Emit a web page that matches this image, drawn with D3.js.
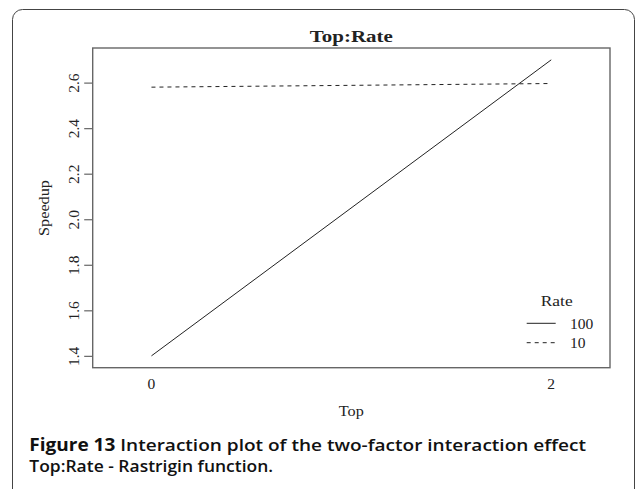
<!DOCTYPE html>
<html>
<head>
<meta charset="utf-8">
<script src="https://cdn.jsdelivr.net/npm/d3@7"></script>
<style>
  body { margin: 0; background: #fff; }
  svg { display: block; }
  .serif { font-family: "Liberation Serif", "Times New Roman", serif; fill: #222; }
  .cap { font-family: "Open Sans", "Noto Sans", sans-serif; fill: #111; }
</style>
</head>
<body>
<div id="chart"></div>
<script>
// values
const topLevels = ["0", "2"];
const rateLevels = ["100", "10"];
const speedup100 = [1.40, 2.70];
const speedup10 = [2.58, 2.596];
const yTicks = [1.4, 1.6, 1.8, 2.0, 2.2, 2.4, 2.6];
const dashes = ["none", "4,4"];

const width = 637;
const height = 489;
const plot = { left: 92.7, right: 610, top: 48, bottom: 367.7 };

const svg = d3.select("#chart").append("svg")
  .attr("width", width)
  .attr("height", height);

// outer frame (open at the bottom of the picture)
svg.append("rect")
  .attr("x", 12.5).attr("y", 9.5)
  .attr("width", 622).attr("height", 540)
  .attr("rx", 10)
  .attr("fill", "none")
  .attr("stroke", "#444")
  .attr("stroke-width", 1);

const xScale = d3.scalePoint()
  .domain(topLevels)
  .range([plot.left, plot.right])
  .padding(0.147);

const yScale = d3.scaleLinear()
  .domain([1.348, 2.752])
  .range([plot.bottom, plot.top]);

// text placed in a group so it can be stretched to the measured width
function label(x, y, txt, cls, size, opts = {}) {
  const g = svg.append("g");
  const t = g.append("text")
    .attr("class", cls)
    .attr("text-anchor", opts.anchor || "middle")
    .attr("dominant-baseline", opts.baseline || "central")
    .style("font-size", size + "px")
    .style("font-weight", opts.weight || "normal")
    .text(txt);
  let k = 1;
  if (opts.fit) k = opts.fit / t.node().getComputedTextLength();
  g.attr("transform", `translate(${x},${y}) rotate(${opts.rotate || 0}) scale(${k},1)`);
  return t;
}

// plot box
svg.append("rect")
  .attr("x", plot.left).attr("y", plot.top)
  .attr("width", plot.right - plot.left)
  .attr("height", plot.bottom - plot.top)
  .attr("fill", "none")
  .attr("stroke", "#666")
  .attr("stroke-width", 1.4);

// y axis
const yAxis = d3.axisLeft(yScale)
  .tickValues(yTicks)
  .tickSize(8.5)
  .tickFormat(d3.format(".1f"));

const gy = svg.append("g")
  .attr("transform", `translate(${plot.left},0)`)
  .call(yAxis);
gy.select(".domain").remove();
gy.selectAll(".tick line").attr("stroke", "#666").attr("stroke-width", 1.2);
gy.selectAll(".tick text")
  .attr("class", "serif")
  .attr("x", 0).attr("y", 0)
  .attr("dy", null)
  .attr("text-anchor", "middle")
  .attr("dominant-baseline", "central")
  .attr("transform", "translate(-19.4,0) rotate(-90)")
  .style("font-size", "15.5px")
  .attr("fill", "#222");

// x labels (no tick marks in the original)
topLevels.forEach(d => label(xScale(d), 383, d, "serif", 15.5));

// lines
const line = d3.line()
  .x((d, i) => xScale(topLevels[i]))
  .y(d => yScale(d));

[speedup100, speedup10].forEach((s, i) => {
  svg.append("path")
    .datum(s)
    .attr("d", line)
    .attr("fill", "none")
    .attr("stroke", "#222")
    .attr("stroke-width", 1)
    .attr("stroke-dasharray", dashes[i]);
});

// titles
label(351.3, 36, "Top:Rate", "serif", 17, { weight: "bold", fit: 83 });
label(351.3, 410.7, "Top", "serif", 15.5, { fit: 25 });
label(43.3, 208, "Speedup", "serif", 15.5, { rotate: -90, fit: 56 });

// legend
label(556.7, 300.7, "Rate", "serif", 15.5, { fit: 32 });
rateLevels.forEach((r, i) => {
  const y = 323.3 + i * 19.4;
  svg.append("line")
    .attr("x1", 526.7).attr("x2", 555.7)
    .attr("y1", y).attr("y2", y)
    .attr("stroke", "#222")
    .attr("stroke-width", 1)
    .attr("stroke-dasharray", dashes[i]);
  label(570, y, r, "serif", 15.5, { anchor: "start" });
});

// caption, two lines
const c1 = svg.append("g");
const t1 = c1.append("text")
  .attr("class", "cap")
  .style("font-size", "17px");
t1.append("tspan").style("font-weight", 700).text("Figure 13");
t1.append("tspan").style("font-weight", 600).text(" Interaction plot of the two-factor interaction effect");
const k1 = 557 / t1.node().getComputedTextLength();
c1.attr("transform", `translate(29.3,450.5) scale(${k1},1)`);

const c2 = svg.append("g");
const t2 = c2.append("text")
  .attr("class", "cap")
  .style("font-size", "17px")
  .style("font-weight", 600)
  .text("Top:Rate - Rastrigin function.");
const k2 = 244 / t2.node().getComputedTextLength();
c2.attr("transform", `translate(29.3,471.5) scale(${k2},1)`);
</script>
</body>
</html>
